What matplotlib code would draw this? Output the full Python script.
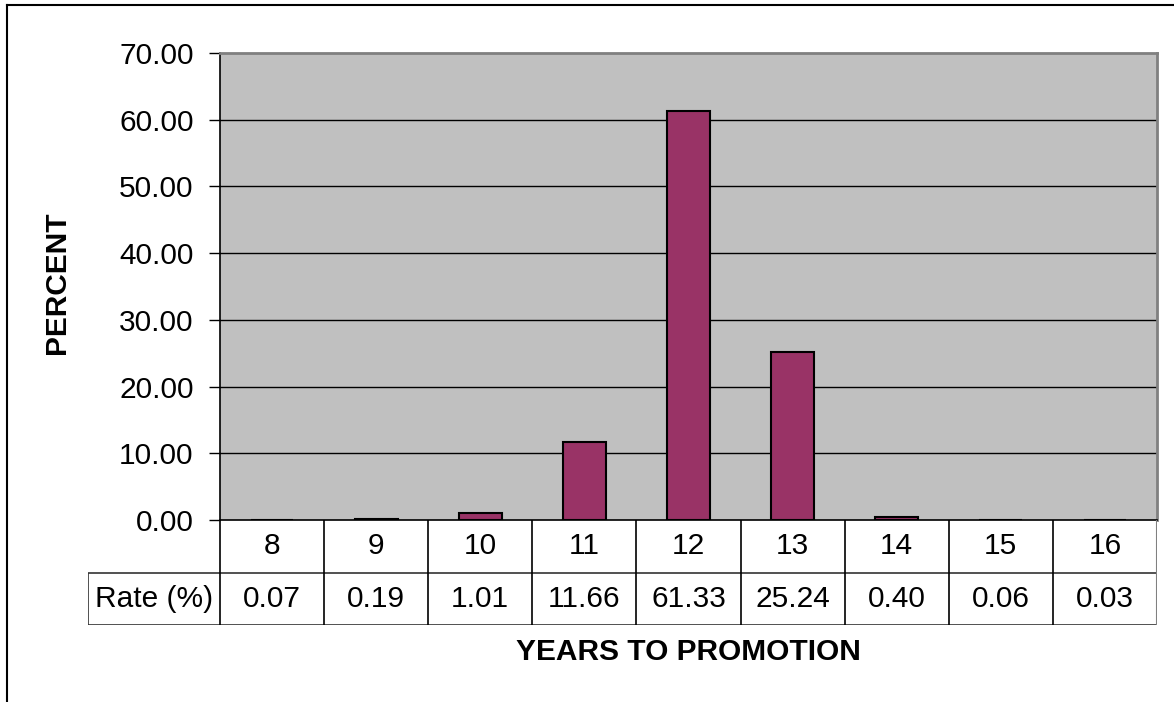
import matplotlib
matplotlib.use('Agg')
import matplotlib.pyplot as plt
from matplotlib.lines import Line2D

years = ['8', '9', '10', '11', '12', '13', '14', '15', '16']
rates = [0.07, 0.19, 1.01, 11.66, 61.33, 25.24, 0.40, 0.06, 0.03]
yticks = [0, 10, 20, 30, 40, 50, 60, 70]

plt.rcParams['font.family'] = ['Liberation Sans', 'DejaVu Sans']
FS = 21.5

W, H = 1174, 702
fig = plt.figure(figsize=(W / 100, H / 100), dpi=100)

def px(x0, y0, x1, y1):
    # pixel box (top-left origin) -> figure fraction rect
    return [x0 / W, 1 - y1 / H, (x1 - x0) / W, (y1 - y0) / H]

# chart frame (top and left edges only)
fig.add_artist(Line2D([7 / W, 7 / W], [0, 1 - 5 / H], color='black', lw=1.5))
fig.add_artist(Line2D([7 / W, 1], [1 - 5 / H, 1 - 5 / H], color='black', lw=1.5))

ax = fig.add_axes(px(220, 53, 1157, 520))
ax.set_facecolor('#c0c0c0')
x = list(range(len(years)))
ax.bar(x, rates, width=0.41, color='#993366', edgecolor='black', linewidth=1.5, zorder=3)
ax.set_xlim(-0.5, len(years) - 0.5)
ax.set_ylim(0, 70)
ax.set_yticks(yticks)
ax.set_yticklabels([f'{v:.2f}' for v in yticks], fontsize=FS)
ax.set_xticks([])
ax.tick_params(axis='y', direction='out', length=8, width=1, pad=11)
for v in yticks[1:-1]:
    ax.axhline(v, color='black', lw=1, zorder=1)
for side in ('top', 'right'):
    ax.spines[side].set_color('#808080')
    ax.spines[side].set_linewidth(2)
for side in ('left', 'bottom'):
    ax.spines[side].set_color('black')
    ax.spines[side].set_linewidth(1.2)
fig.text(57 / W, 1 - 283 / H, 'PERCENT', rotation=90, ha='center', va='center',
         fontsize=FS, fontweight='bold')

# data table below the plot
n = len(years)
lab_w = (220 - 88) / ((1157 - 220) / n)
tab = fig.add_axes(px(88, 520, 1157, 625))
tab.set_xlim(-0.5 - lab_w, n - 0.5)
tab.set_ylim(0, 2)
tab.axis('off')
tab.hlines([0, 1], -0.5 - lab_w, n - 0.5, color='#333333', lw=1.2)
for b in range(n):
    tab.vlines(b - 0.5, 0, 2, color='black', lw=1.2)
tab.vlines(n - 0.5, 0, 2, color='#808080', lw=1.5)
tab.vlines(-0.5 - lab_w, 0, 1, color='#333333', lw=1.2)
for i, (yr, r) in enumerate(zip(years, rates)):
    tab.text(i, 1.5, yr, ha='center', va='center', fontsize=FS)
    tab.text(i, 0.5, f'{r:.2f}', ha='center', va='center', fontsize=FS)
tab.text(-0.5 - lab_w / 2, 0.5, 'Rate (%)', ha='center', va='center', fontsize=FS)

fig.text((220 + 1157) / 2 / W, 1 - 652 / H, 'YEARS TO PROMOTION', ha='center', va='center',
         fontsize=FS, fontweight='bold')

fig.savefig('out.png', dpi=100)
